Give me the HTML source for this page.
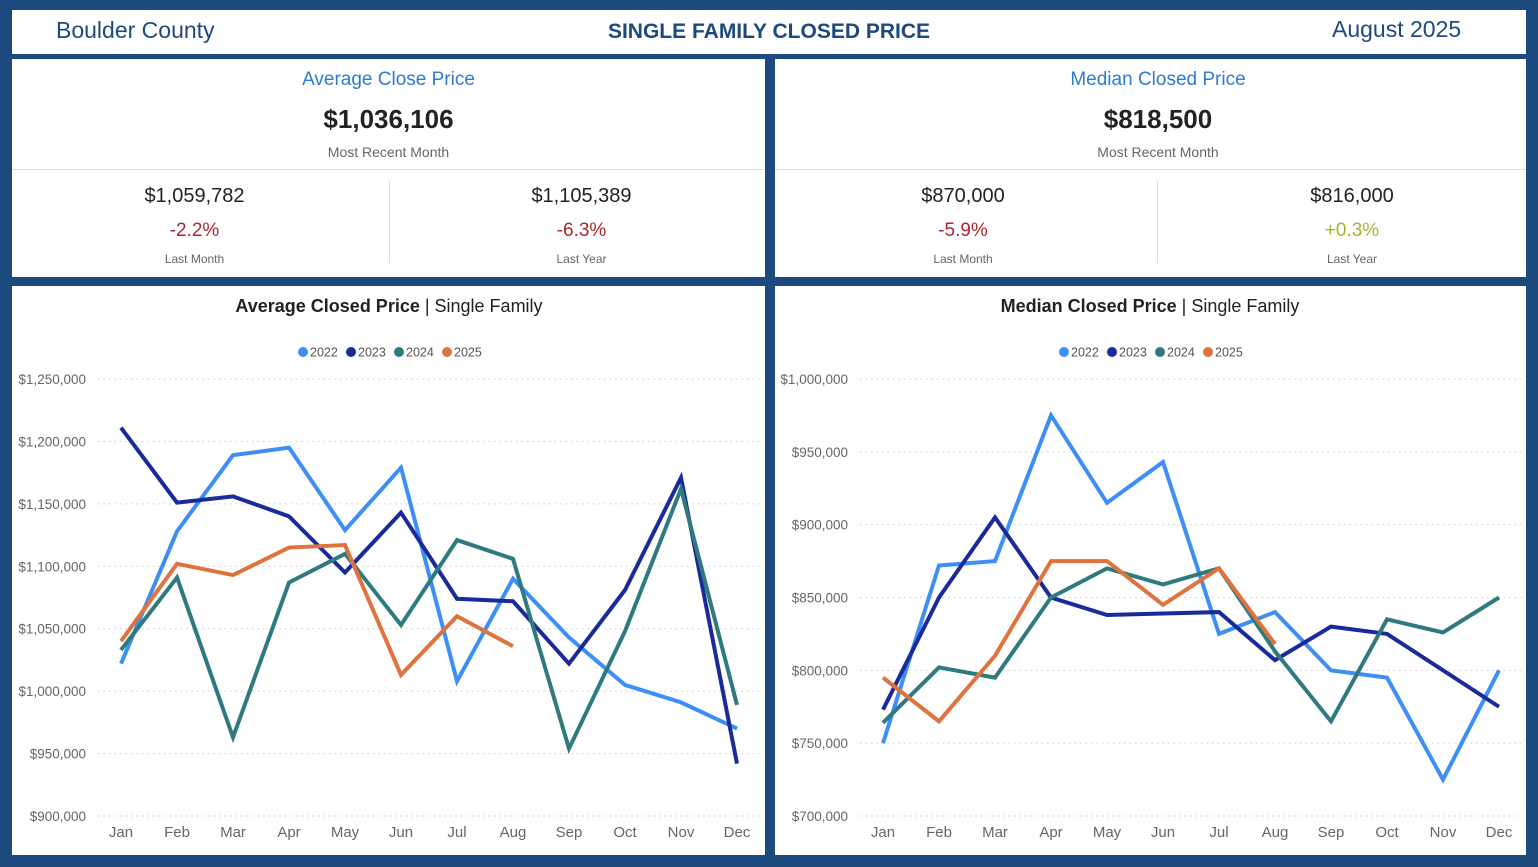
<!DOCTYPE html>
<html><head><meta charset="utf-8"><style>
body{margin:0;width:1538px;height:867px;background:#1d4a7e;font-family:"Liberation Sans",sans-serif;position:relative;overflow:hidden}
.box{position:absolute;background:#fff}
.t{position:absolute;text-align:center;white-space:nowrap}
</style></head><body>
<div class="box" style="left:12px;top:10px;width:1514px;height:44px">
<div class="t" style="left:44px;top:7px;font-size:23px;color:#1d4a7e">Boulder County</div>
<div class="t" style="left:0;width:1514px;top:10px;font-size:21px;font-weight:bold;color:#1d4a7e">SINGLE FAMILY CLOSED PRICE</div>
<div class="t" style="left:1320px;top:6px;font-size:23px;color:#1d4a7e">August 2025</div>
</div>

<div class="box" style="left:12px;top:59px;width:753px;height:218px">
<div class="t" style="left:0;width:753px;top:10px;font-size:19px;color:#2f7bd0">Average Close Price</div>
<div class="t" style="left:0;width:753px;top:45px;font-size:26px;font-weight:bold;color:#222">$1,036,106</div>
<div class="t" style="left:0;width:753px;top:85px;font-size:14px;color:#666">Most Recent Month</div>
<div style="position:absolute;left:0;top:110px;width:753px;height:1px;background:#ddd"></div>
<div style="position:absolute;left:377px;top:122px;width:1px;height:82px;background:#ddd"></div>
<div class="t" style="left:0;width:365px;top:126px;font-size:20px;color:#222">$1,059,782</div>
<div class="t" style="left:0;width:365px;top:161px;font-size:19px;color:#b0252e">-2.2%</div>
<div class="t" style="left:0;width:365px;top:193px;font-size:12px;color:#666">Last Month</div>
<div class="t" style="left:377px;width:385px;top:126px;font-size:20px;color:#222">$1,105,389</div>
<div class="t" style="left:377px;width:385px;top:161px;font-size:19px;color:#b0252e">-6.3%</div>
<div class="t" style="left:377px;width:385px;top:193px;font-size:12px;color:#666">Last Year</div>
</div>

<div class="box" style="left:775px;top:59px;width:751px;height:218px">
<div class="t" style="left:0;width:766px;top:10px;font-size:19px;color:#2f7bd0">Median Closed Price</div>
<div class="t" style="left:0;width:766px;top:45px;font-size:26px;font-weight:bold;color:#222">$818,500</div>
<div class="t" style="left:0;width:766px;top:85px;font-size:14px;color:#666">Most Recent Month</div>
<div style="position:absolute;left:0;top:110px;width:751px;height:1px;background:#ddd"></div>
<div style="position:absolute;left:382px;top:122px;width:1px;height:82px;background:#ddd"></div>
<div class="t" style="left:0;width:376px;top:126px;font-size:20px;color:#222">$870,000</div>
<div class="t" style="left:0;width:376px;top:161px;font-size:19px;color:#b0252e">-5.9%</div>
<div class="t" style="left:0;width:376px;top:193px;font-size:12px;color:#666">Last Month</div>
<div class="t" style="left:382px;width:390px;top:126px;font-size:20px;color:#222">$816,000</div>
<div class="t" style="left:382px;width:390px;top:161px;font-size:19px;color:#9cbc2e">+0.3%</div>
<div class="t" style="left:382px;width:390px;top:193px;font-size:12px;color:#666">Last Year</div>
</div>

<div class="box" style="left:12px;top:286px;width:753px;height:569px"></div>
<div class="box" style="left:775px;top:286px;width:751px;height:569px"></div>

<svg id="svg" width="1538" height="867" style="position:absolute;left:0;top:0"></svg>

<script>
const months=["Jan","Feb","Mar","Apr","May","Jun","Jul","Aug","Sep","Oct","Nov","Dec"];
const years=["2022","2023","2024","2025"];
const colors=["#3d8ff5","#1a2a9a","#2e7a7e","#e0723e"];
const avg2022=[1022,1128,1189,1195,1129,1179,1008,1090,1043,1005,991,970];
const avg2023=[1211,1151,1156,1140,1095,1143,1074,1072,1022,1081,1171,942];
const avg2024=[1033,1091,963,1087,1110,1053,1121,1106,954,1048,1162,989];
const avg2025=[1040,1102,1093,1115,1117,1013,1060,1036];
const avgTicks=[900,950,1000,1050,1100,1150,1200,1250];
const med2022=[750,872,875,975,915,943,825,840,800,795,725,800];
const med2023=[773,850,905,850,838,839,840,807,830,825,800,775];
const med2024=[764,802,795,850,870,859,870,813,765,835,826,850];
const med2025=[795,765,810,875,875,845,870,818];
const medTicks=[700,750,800,850,900,950,1000];

const NS="http://www.w3.org/2000/svg";
const svg=document.getElementById('svg');
function mk(tag,attrs,parent){const e=document.createElementNS(NS,tag);for(const k in attrs)e.setAttribute(k,attrs[k]);(parent||svg).appendChild(e);return e;}
function fmt(v){return "$"+(v*1000).toLocaleString("en-US");}

function chart(prefix,boldTitle,x0,x1,yTop,yBot,ticks,series,cx,axisX){
  const lo=ticks[0],hi=ticks[ticks.length-1];
  const X=i=>x0+(x1-x0)*i/11;
  const Y=v=>yBot-(v-lo)/(hi-lo)*(yBot-yTop);
  const title=mk('text',{x:cx,y:312,'text-anchor':'middle','font-size':18,fill:'#222'});
  
  
  const b=mk('tspan',{'font-weight':'bold'},title);b.textContent=boldTitle;
  const r=mk('tspan',{},title);r.textContent=" | Single Family";
  let lx=cx-91;
  years.forEach((y,k)=>{
    const g=mk('g',{});
    
    
    mk('circle',{cx:lx+5,cy:352,r:5,fill:colors[k]},g);
    const t=mk('text',{x:lx+12,y:356.5,'font-size':12.5,fill:'#555'},g);t.textContent=y;
    lx+=48;
  });
  ticks.forEach(v=>{
    const l=mk('line',{x1:axisX+82,x2:x1+22,y1:Y(v),y2:Y(v),stroke:'#ccc','stroke-dasharray':'1.5 4'});
    
    
    const t=mk('text',{x:axisX+70,y:Y(v)+5,'text-anchor':'end','font-size':13.5,fill:'#666'});
    
    
    t.textContent=fmt(v);
  });
  months.forEach((m,i)=>{
    const t=mk('text',{x:X(i),y:yBot+21,'text-anchor':'middle','font-size':15,fill:'#666'});
    
    
    t.textContent=m;
  });
  series.forEach((s,k)=>{
    const p=mk('polyline',{points:s.map((v,i)=>X(i)+","+Y(v)).join(" "),fill:'none',stroke:colors[k],'stroke-width':4,'stroke-linejoin':'miter'});
    
    
  });
}
chart('average','Average Closed Price',121,737,379,816,avgTicks,[avg2022,avg2023,avg2024,avg2025],389,16);
chart('median','Median Closed Price',883,1499,379,816,medTicks,[med2022,med2023,med2024,med2025],1150,778);
</script>
</body></html>
